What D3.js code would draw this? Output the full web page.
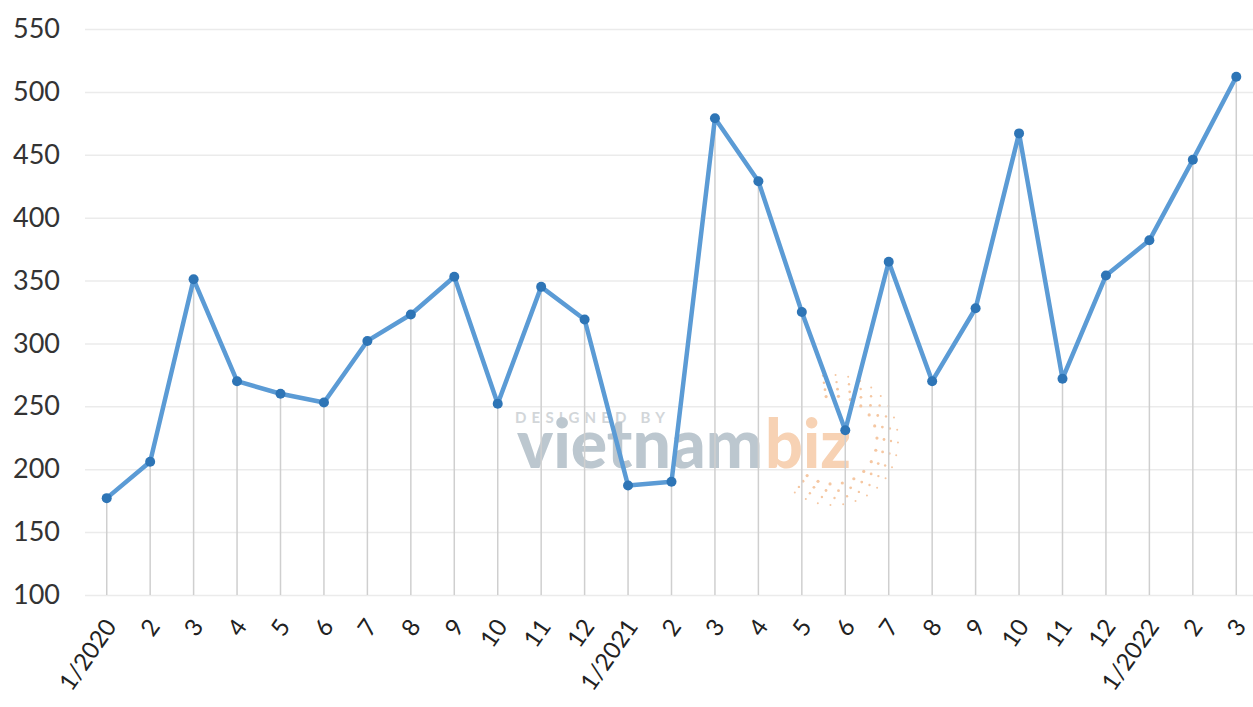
<!DOCTYPE html>
<html>
<head>
<meta charset="utf-8">
<script src="https://cdn.jsdelivr.net/npm/d3@7"></script>
<style>
  html, body { margin: 0; padding: 0; background: #ffffff; }
  svg { display: block; }
</style>
</head>
<body>
<svg id="chart" width="1253" height="707"></svg>
<script>
// ---- data ----
const categories = ["1/2020","2","3","4","5","6","7","8","9","10","11","12",
                    "1/2021","2","3","4","5","6","7","8","9","10","11","12",
                    "1/2022","2","3"];
const values = [177, 206, 351, 270, 260, 253, 302, 323, 353, 252, 345, 319,
                187, 190, 479, 429, 325, 231, 365, 270, 328, 467, 272, 354,
                382, 446, 512];
const yTicks = [100, 150, 200, 250, 300, 350, 400, 450, 500, 550];

// ---- layout ----
const W = 1253, H = 707;
const plot = { left: 85, right: 1258, top: 29, bottom: 595 };

const svg = d3.select("#chart");
const keys = categories.map((c, i) => i);

const x = d3.scalePoint().domain(keys).range([plot.left, plot.right]).padding(0.5);
const y = d3.scaleLinear().domain([100, 550]).range([plot.bottom, plot.top]);

// gridlines + y labels
const yAxis = d3.axisLeft(y).tickValues(yTicks).tickSize(-(W - plot.left)).tickPadding(25);
const gy = svg.append("g").attr("transform", `translate(${plot.left},0)`).call(yAxis);
gy.select(".domain").remove();
gy.selectAll(".tick line").attr("stroke", "#ebebeb").attr("stroke-width", 1.5);
gy.selectAll(".tick text")
  .attr("fill", "#333333")
  .style("font-family", "Lato, 'Open Sans', sans-serif")
  .style("font-size", "27px");

// watermark
const wm = svg.append("g");
wm.append("text").attr("x", 515).attr("y", 423)
  .text("DESIGNED BY")
  .attr("fill", "#d2d6d9")
  .attr("textLength", 150).attr("lengthAdjust", "spacing")
  .style("font-family", "Lato, sans-serif").style("font-weight", "700")
  .style("font-size", "15px");
wm.append("text").attr("x", 517).attr("y", 468)
  .text("vietnam")
  .attr("fill", "#bcc7cf")
  .attr("textLength", 246).attr("lengthAdjust", "spacingAndGlyphs")
  .style("font-family", "Lato, sans-serif").style("font-weight", "900")
  .style("font-size", "68px");
wm.append("text").attr("x", 765).attr("y", 468)
  .text("biz")
  .attr("fill", "#f7d2b4")
  .attr("textLength", 86).attr("lengthAdjust", "spacingAndGlyphs")
  .style("font-family", "Lato, sans-serif").style("font-weight", "900")
  .style("font-size", "68px");
const ringCx = 833, ringCy = 440;
const ring = wm.append("g").attr("transform", `translate(${ringCx},${ringCy})`);
[44, 51, 58, 65].forEach((r, k) => {
  const n = Math.round(r / 3.2);
  for (let i = 0; i <= n; i++) {
    const a = -Math.PI * 0.55 + (Math.PI * 1.25) * i / n;
    ring.append("circle")
      .attr("cx", r * Math.cos(a)).attr("cy", r * Math.sin(a))
      .attr("r", 1.6 - k * 0.2).attr("fill", "#f5c7a2");
  }
});

// drop lines
svg.append("g").selectAll("line").data(keys).join("line")
  .attr("x1", d => x(d)).attr("x2", d => x(d))
  .attr("y1", d => y(values[d])).attr("y2", y(100))
  .attr("stroke", "#cfcfcf").attr("stroke-width", 1.5);

// line
const line = d3.line().x(d => x(d)).y(d => y(values[d]));
svg.append("path").datum(keys)
  .attr("d", line)
  .attr("fill", "none")
  .attr("stroke", "#5b9bd5")
  .attr("stroke-width", 4.5)
  .attr("stroke-linejoin", "round");

// markers
svg.append("g").selectAll("circle").data(keys).join("circle")
  .attr("cx", d => x(d)).attr("cy", d => y(values[d]))
  .attr("r", 5).attr("fill", "#2e75b6");

// x axis labels
const xAxis = d3.axisBottom(x).tickSize(0).tickFormat(d => categories[d]);
const gx = svg.append("g").attr("transform", `translate(0,${plot.bottom})`).call(xAxis);
gx.select(".domain").remove();
gx.selectAll(".tick text")
  .attr("fill", "#222222")
  .style("font-family", "Lato, 'Open Sans', sans-serif")
  .style("font-size", "24px")
  .attr("text-anchor", "end")
  .attr("dy", "0.35em")
  .attr("transform", "translate(1,25) rotate(-55)");
</script>
</body>
</html>
